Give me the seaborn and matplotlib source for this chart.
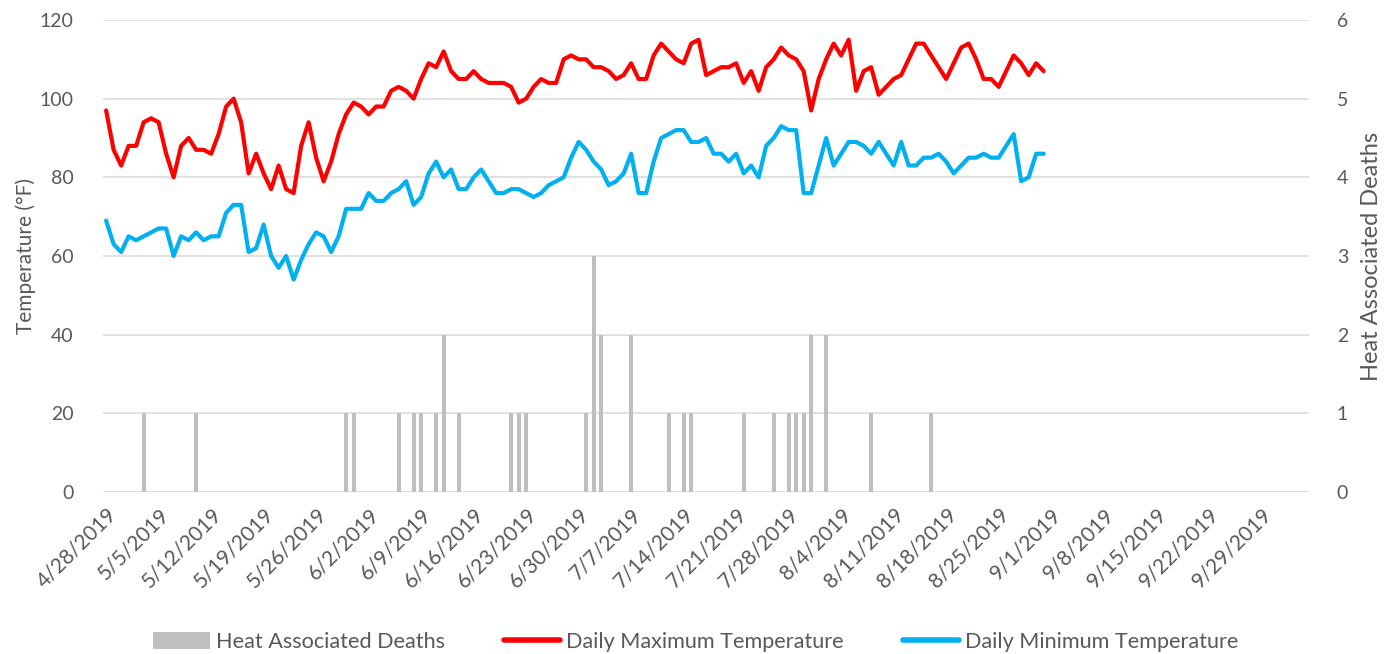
import numpy as np
import pandas as pd
import matplotlib
matplotlib.use("Agg")
import matplotlib.pyplot as plt
import seaborn as sns
from matplotlib.patches import Patch
from matplotlib.lines import Line2D

# ---------------- data ----------------
start_date = "2019-04-28"
tmax = [97, 87, 83, 88, 88, 94, 95, 94, 86, 80,
        88, 90, 87, 87, 86, 91, 98, 100, 94, 81,
        86, 81, 77, 83, 77, 76, 88, 94, 85, 79,
        84, 91, 96, 99, 98, 96, 98, 98, 102, 103,
        102, 100, 105, 109, 108, 112, 107, 105, 105, 107,
        105, 104, 104, 104, 103, 99, 100, 103, 105, 104,
        104, 110, 111, 110, 110, 108, 108, 107, 105, 106,
        109, 105, 105, 111, 114, 112, 110, 109, 114, 115,
        106, 107, 108, 108, 109, 104, 107, 102, 108, 110,
        113, 111, 110, 107, 97, 105, 110, 114, 111, 115,
        102, 107, 108, 101, 103, 105, 106, 110, 114, 114,
        111, 108, 105, 109, 113, 114, 110, 105, 105, 103,
        107, 111, 109, 106, 109, 107]
tmin = [69, 63, 61, 65, 64, 65, 66, 67, 67, 60,
        65, 64, 66, 64, 65, 65, 71, 73, 73, 61,
        62, 68, 60, 57, 60, 54, 59, 63, 66, 65,
        61, 65, 72, 72, 72, 76, 74, 74, 76, 77,
        79, 73, 75, 81, 84, 80, 82, 77, 77, 80,
        82, 79, 76, 76, 77, 77, 76, 75, 76, 78,
        79, 80, 85, 89, 87, 84, 82, 78, 79, 81,
        86, 76, 76, 84, 90, 91, 92, 92, 89, 89,
        90, 86, 86, 84, 86, 81, 83, 80, 88, 90,
        93, 92, 92, 76, 76, 83, 90, 83, 86, 89,
        89, 88, 86, 89, 86, 83, 89, 83, 83, 85,
        85, 86, 84, 81, 83, 85, 85, 86, 85, 85,
        88, 91, 79, 80, 86, 86]

death_dates = ["2019-05-03", "2019-05-10", "2019-05-30", "2019-05-31", "2019-06-06",
               "2019-06-08", "2019-06-09", "2019-06-11", "2019-06-12", "2019-06-14",
               "2019-06-21", "2019-06-22", "2019-06-23", "2019-07-01", "2019-07-02",
               "2019-07-03", "2019-07-07", "2019-07-12", "2019-07-14", "2019-07-15",
               "2019-07-22", "2019-07-26", "2019-07-28", "2019-07-29", "2019-07-30",
               "2019-07-31", "2019-08-02", "2019-08-08", "2019-08-16"]
death_counts = [1, 1, 1, 1, 1, 1, 1, 1, 2, 1,
                1, 1, 1, 1, 3, 2, 2, 1, 1, 1,
                1, 1, 1, 1, 1, 2, 2, 1, 1]

tick_labels = ["4/28/2019", "5/5/2019", "5/12/2019", "5/19/2019", "5/26/2019",
               "6/2/2019", "6/9/2019", "6/16/2019", "6/23/2019", "6/30/2019",
               "7/7/2019", "7/14/2019", "7/21/2019", "7/28/2019", "8/4/2019",
               "8/11/2019", "8/18/2019", "8/25/2019", "9/1/2019", "9/8/2019",
               "9/15/2019", "9/22/2019", "9/29/2019"]
temp_ticks = [0, 20, 40, 60, 80, 100, 120]
death_ticks = [0, 1, 2, 3, 4, 5, 6]

name_max = "Daily Maximum Temperature"
name_min = "Daily Minimum Temperature"
name_deaths = "Heat Associated Deaths"

# ---------------- style ----------------
sns.set_theme(style="white")
plt.rcParams["font.family"] = ["Lato", "DejaVu Sans"]
TXT = "#595959"
GRID = "#d9d9d9"
RED = "#ff0000"
BLUE = "#00b0f0"
BAR = "#bfbfbf"
FS = 14

dates = pd.date_range(start_date, periods=len(tmax), freq="D")
df = pd.DataFrame({
    "date": np.concatenate([dates, dates]),
    "temp": tmax + tmin,
    "series": [name_max] * len(tmax) + [name_min] * len(tmin),
})

fig = plt.figure(figsize=(13.92, 6.54), dpi=100)
ax = fig.add_axes([103 / 1392, (654 - 492) / 654, 1206 / 1392, 472 / 654])
ax2 = ax.twinx()

# bars (secondary axis)
ax2.bar(pd.to_datetime(death_dates), death_counts, width=0.55, color=BAR,
        linewidth=0, zorder=2)
ax2.set_ylim(0, 6)
ax2.set_yticks(death_ticks)

# lines (primary axis)
sns.lineplot(data=df, x="date", y="temp", hue="series",
             palette={name_max: RED, name_min: BLUE},
             linewidth=3.0, ax=ax, legend=False, zorder=3)
ax.set_ylim(0, 120)
ax.set_yticks(temp_ticks)
ax.set_zorder(ax2.get_zorder() + 1)
ax.patch.set_visible(False)

# gridlines drawn on the secondary (bottom) axis so bars overlay them
for t in temp_ticks[1:]:
    ax2.axhline(t / 20, color=GRID, lw=1.1, zorder=0)
ax2.axhline(0, color=GRID, lw=1.3, zorder=1)

xmin = pd.Timestamp(start_date) - pd.Timedelta(hours=10)
xmax = pd.Timestamp(start_date) + pd.Timedelta(hours=int(160.4 * 24))
ax.set_xlim(xmin, xmax)
ticks = pd.date_range(start_date, periods=len(tick_labels), freq="7D")
ax.set_xticks(ticks)
ax.set_xticklabels(tick_labels, rotation=45, ha="right", rotation_mode="anchor",
                   color=TXT, fontsize=15)
ax.tick_params(axis="x", length=0, pad=9)
ax.tick_params(axis="y", length=0, pad=21, labelcolor=TXT, labelsize=FS)
ax2.tick_params(axis="y", length=0, pad=20, labelcolor=TXT, labelsize=FS)

ax.set_xlabel("")
ax.set_ylabel("Temperature (°F)", color=TXT, fontsize=15, labelpad=3)
ax2.set_ylabel(name_deaths, color=TXT, fontsize=17, rotation=90, labelpad=9)

for a in (ax, ax2):
    for s in a.spines.values():
        s.set_visible(False)

handles = [Patch(facecolor=BAR, edgecolor="none"),
           Line2D([0], [0], color=RED, lw=4, solid_capstyle="round"),
           Line2D([0], [0], color=BLUE, lw=4, solid_capstyle="round")]
fig.legend(handles, [name_deaths, name_max, name_min], loc="center",
           bbox_to_anchor=(0.5, 0.018), ncol=3, frameon=False, fontsize=15.6,
           handlelength=2.6, handleheight=0.8, handletextpad=0.3, columnspacing=2.7,
           labelcolor=TXT)

fig.savefig("out.png", dpi=100)
